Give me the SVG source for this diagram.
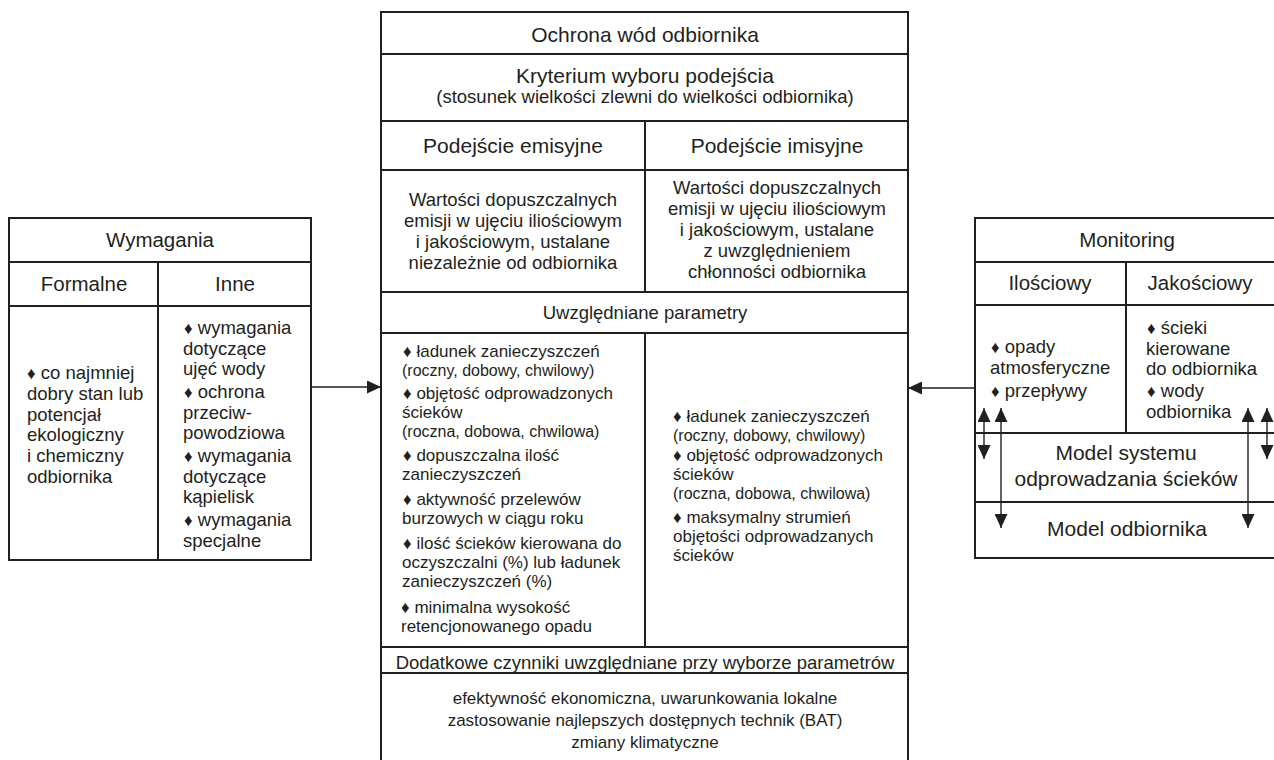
<svg xmlns="http://www.w3.org/2000/svg" width="1274" height="760" viewBox="0 0 1274 760">
<style>
text{font-family:"Liberation Sans",Arial,sans-serif;fill:#231f20}
.box{fill:none;stroke:#231f20;stroke-width:2}
.ln{stroke:#231f20;stroke-width:2}
.c{text-anchor:middle}
.h21{font-size:21px}
.h20{font-size:20.5px}
.t18{font-size:18.5px}
.t17{font-size:17px}
.t16{font-size:16px}
.b{font-size:17px}
.arr{stroke:#231f20;stroke-width:1.4;fill:none;marker-end:url(#ah)}
.darr{stroke:#231f20;stroke-width:1.4;fill:none;marker-start:url(#ah);marker-end:url(#ah)}
</style>
<defs>
<marker id="ah" markerUnits="userSpaceOnUse" markerWidth="14" markerHeight="13" refX="14" refY="6.5" orient="auto-start-reverse">
<path d="M0,0 L14,6.5 L0,13 z" fill="#231f20"/>
</marker>
</defs>
<rect width="1274" height="760" fill="#ffffff"/>

<g id="wymagania">
<rect class="box" x="9" y="218" width="302" height="342"/>
<line class="ln" x1="9" y1="262" x2="311" y2="262"/>
<line class="ln" x1="9" y1="306" x2="311" y2="306"/>
<line class="ln" x1="158" y1="262" x2="158" y2="560"/>
<text class="h20 c" x="160" y="247">Wymagania</text>
<text class="h20 c" x="84" y="291">Formalne</text>
<text class="h20 c" x="235" y="291">Inne</text>
<g class="t18">
<text x="27" y="379"><tspan class="b">♦</tspan> co najmniej</text>
<text x="27" y="400">dobry stan lub</text>
<text x="27" y="421">potencjał</text>
<text x="27" y="441">ekologiczny</text>
<text x="27" y="462">i chemiczny</text>
<text x="27" y="483">odbiornika</text>
<text x="184" y="334"><tspan class="b">♦</tspan> wymagania</text>
<text x="183" y="354.5">dotyczące</text>
<text x="183" y="375">ujęć wody</text>
<text x="184" y="398"><tspan class="b">♦</tspan> ochrona</text>
<text x="183" y="418.5">przeciw-</text>
<text x="183" y="439">powodziowa</text>
<text x="184" y="462"><tspan class="b">♦</tspan> wymagania</text>
<text x="183" y="482.5">dotyczące</text>
<text x="183" y="503">kąpielisk</text>
<text x="184" y="526"><tspan class="b">♦</tspan> wymagania</text>
<text x="183" y="546.5">specjalne</text>
</g>
</g>

<g id="ochrona">
<rect class="box" x="381" y="12" width="527" height="770"/>
<line class="ln" x1="381" y1="54" x2="908" y2="54"/>
<line class="ln" x1="381" y1="121" x2="908" y2="121"/>
<line class="ln" x1="381" y1="170" x2="908" y2="170"/>
<line class="ln" x1="381" y1="292" x2="908" y2="292"/>
<line class="ln" x1="381" y1="333" x2="908" y2="333"/>
<line class="ln" x1="381" y1="647" x2="908" y2="647"/>
<line class="ln" x1="381" y1="673" x2="908" y2="673"/>
<line class="ln" x1="645" y1="121" x2="645" y2="292"/>
<line class="ln" x1="645" y1="333" x2="645" y2="647"/>
<text class="h21 c" x="645" y="42">Ochrona wód odbiornika</text>
<text class="h21 c" x="645" y="83">Kryterium wyboru podejścia</text>
<text class="t18 c" x="645" y="103">(stosunek wielkości zlewni do wielkości odbiornika)</text>
<text class="h21 c" x="513" y="153">Podejście emisyjne</text>
<text class="h21 c" x="777" y="153">Podejście imisyjne</text>
<g class="t18 c">
<text x="513" y="206">Wartości dopuszczalnych</text>
<text x="513" y="227">emisji w ujęciu iliościowym</text>
<text x="513" y="248">i jakościowym, ustalane</text>
<text x="513" y="269">niezależnie od odbiornika</text>
<text x="777" y="194">Wartości dopuszczalnych</text>
<text x="777" y="215">emisji w ujęciu iliościowym</text>
<text x="777" y="236">i jakościowym, ustalane</text>
<text x="777" y="257">z uwzględnieniem</text>
<text x="777" y="278">chłonności odbiornika</text>
</g>
<text class="t18 c" x="645" y="319">Uwzględniane parametry</text>
<g class="t17">
<text x="403" y="357"><tspan class="b">♦</tspan> ładunek zanieczyszczeń</text>
<text class="t16" x="402" y="376">(roczny, dobowy, chwilowy)</text>
<text x="403" y="399"><tspan class="b">♦</tspan> objętość odprowadzonych</text>
<text x="402" y="418">ścieków</text>
<text class="t16" x="402" y="437">(roczna, dobowa, chwilowa)</text>
<text x="403" y="461"><tspan class="b">♦</tspan> dopuszczalna ilość</text>
<text x="402" y="480">zanieczyszczeń</text>
<text x="403" y="505"><tspan class="b">♦</tspan> aktywność przelewów</text>
<text x="402" y="524">burzowych w ciągu roku</text>
<text x="403" y="549"><tspan class="b">♦</tspan> ilość ścieków kierowana do</text>
<text x="402" y="568">oczyszczalni (%) lub ładunek</text>
<text x="402" y="587">zanieczyszczeń (%)</text>
<text x="401" y="613"><tspan class="b">♦</tspan> minimalna wysokość</text>
<text x="401" y="632">retencjonowanego opadu</text>
<text x="673" y="422"><tspan class="b">♦</tspan> ładunek zanieczyszczeń</text>
<text class="t16" x="673" y="441">(roczny, dobowy, chwilowy)</text>
<text x="673" y="461"><tspan class="b">♦</tspan> objętość odprowadzonych</text>
<text x="673" y="480">ścieków</text>
<text class="t16" x="673" y="499">(roczna, dobowa, chwilowa)</text>
<text x="673" y="523"><tspan class="b">♦</tspan> maksymalny strumień</text>
<text x="673" y="542">objętości odprowadzanych</text>
<text x="673" y="561">ścieków</text>
</g>
<text class="t18 c" x="645" y="669">Dodatkowe czynniki uwzględniane przy wyborze parametrów</text>
<g class="t17 c">
<text x="645" y="704">efektywność ekonomiczna, uwarunkowania lokalne</text>
<text x="645" y="726">zastosowanie najlepszych dostępnych technik (BAT)</text>
<text x="645" y="748">zmiany klimatyczne</text>
</g>
</g>

<g id="monitoring">
<rect class="box" x="975" y="218" width="320" height="340"/>
<line class="ln" x1="975" y1="262" x2="1274" y2="262"/>
<line class="ln" x1="975" y1="305" x2="1274" y2="305"/>
<line class="ln" x1="1126" y1="262" x2="1126" y2="433"/>
<line class="ln" x1="975" y1="433" x2="1274" y2="433"/>
<line class="ln" x1="975" y1="502" x2="1274" y2="502"/>
<text class="h20 c" x="1127" y="247">Monitoring</text>
<text class="h20 c" x="1050" y="290">Ilościowy</text>
<text class="h20 c" x="1200" y="290">Jakościowy</text>
<g class="t18">
<text x="991" y="353"><tspan class="b">♦</tspan> opady</text>
<text x="990" y="374">atmosferyczne</text>
<text x="991" y="397"><tspan class="b">♦</tspan> przepływy</text>
<text x="1147" y="334"><tspan class="b">♦</tspan> ścieki</text>
<text x="1146" y="354.5">kierowane</text>
<text x="1146" y="375">do odbiornika</text>
<text x="1147" y="397"><tspan class="b">♦</tspan> wody</text>
<text x="1146" y="418">odbiornika</text>
</g>
<text class="h21 c" x="1126" y="460">Model systemu</text>
<text class="h21 c" x="1126" y="486">odprowadzania ścieków</text>
<text class="h21 c" x="1127" y="536">Model odbiornika</text>
</g>

<g id="connectors">
<line class="arr" x1="311" y1="387" x2="381" y2="387"/>
<line class="arr" x1="975" y1="388" x2="908" y2="388"/>
<line class="darr" x1="984" y1="408" x2="984" y2="459"/>
<line class="darr" x1="1001" y1="408" x2="1001" y2="528"/>
<line class="darr" x1="1248" y1="408" x2="1248" y2="528"/>
<line class="darr" x1="1267" y1="408" x2="1267" y2="459"/>
</g>
</svg>
